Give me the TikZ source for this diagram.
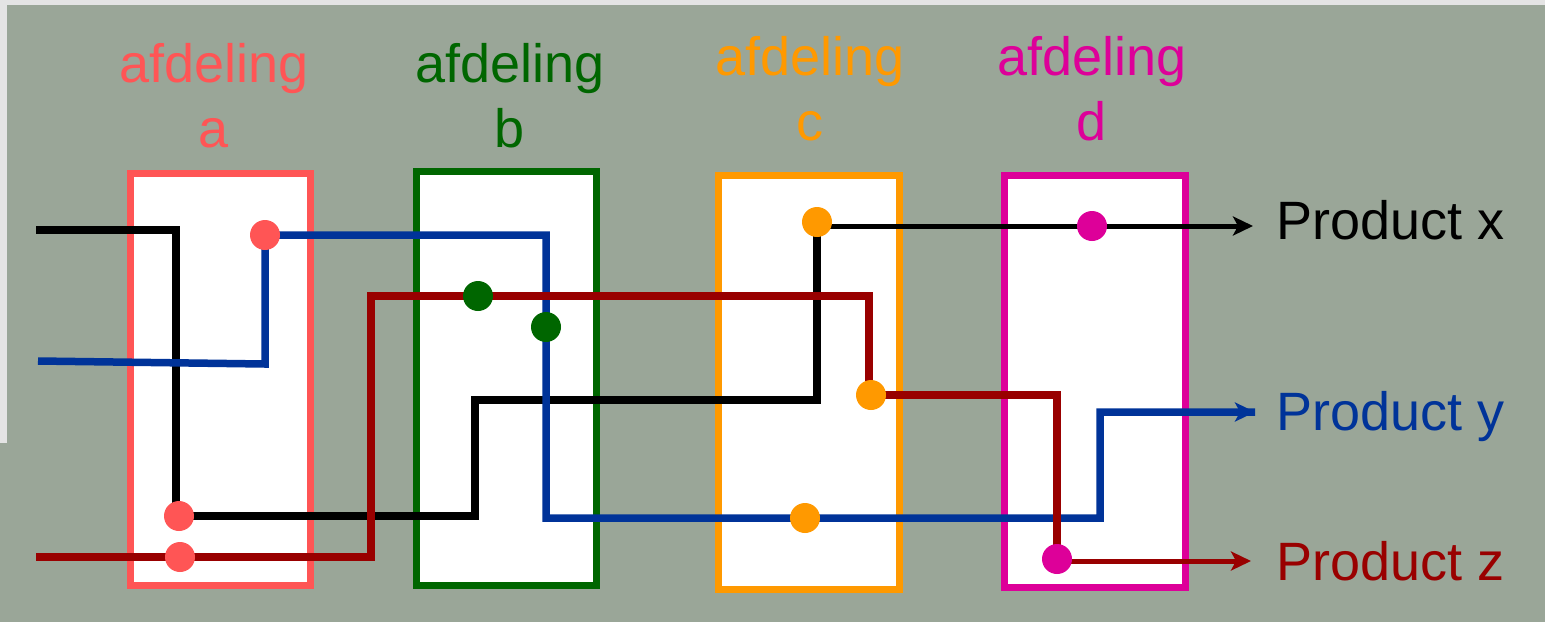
\documentclass[tikz,border=0pt]{standalone}
\usepackage{fontspec}
\setmainfont{Liberation Sans}
\usetikzlibrary{arrows.meta}
\definecolor{panel}{RGB}{154,166,152}
\definecolor{outerbg}{RGB}{228,228,228}
\definecolor{colA}{RGB}{255,85,85}
\definecolor{colB}{RGB}{0,102,0}
\definecolor{colC}{RGB}{255,153,0}
\definecolor{colD}{RGB}{221,0,153}
\definecolor{wblue}{RGB}{0,51,153}
\definecolor{wred}{RGB}{153,0,0}
\pgfdeclarelayer{bglayer}
\pgfdeclarelayer{wirelayer}
\pgfsetlayers{bglayer,wirelayer,main}
\tikzset{
  box/.style={draw, line width=7pt, fill=white, rectangle, inner sep=0pt},
  dot/.style={circle, fill, minimum size=30pt, inner sep=0pt},
  ttl/.style={font=\fontsize{54}{60}\selectfont, anchor=base, inner sep=0pt},
  prod/.style={font=\fontsize{54}{60}\selectfont, anchor=base west, inner sep=0pt},
  wire/.style={line width=7.5pt, line join=miter},
  thinwire/.style={line width=5pt, -{Stealth[length=20pt,width=19pt,inset=5pt]}},
  arrwire/.style={line width=7pt, -{Stealth[length=20pt,width=19pt,inset=5pt]}},
}
\begin{document}
\begin{tikzpicture}[x=1pt,y=-1pt]
\begin{pgfonlayer}{bglayer}
  \fill[outerbg] (0,0) rectangle (1545,622);
  \fill[panel] (7,5) rectangle (1545,622);
  \fill[panel] (0,443) rectangle (7,622);
  \node[box, draw=colA, minimum width=180pt, minimum height=412pt] (A) at (220,379) {};
  \node[box, draw=colB, minimum width=180pt, minimum height=414pt] (B) at (506,378) {};
  \node[box, draw=colC, minimum width=181pt, minimum height=414pt] (C) at (808.5,382) {};
  \node[box, draw=colD, minimum width=181pt, minimum height=412pt] (D) at (1094.5,381) {};
\end{pgfonlayer}

% titles
\node[ttl, text=colA] (tA1) at (214,82) {afdeling};
\node[ttl, text=colA] (tA2) at (214,147) {a};
\node[ttl, text=colB] (tB1) at (510,82) {afdeling};
\node[ttl, text=colB] (tB2) at (510,147) {b};
\node[ttl, text=colC] (tC1) at (810,75) {afdeling};
\node[ttl, text=colC] (tC2) at (810,140) {c};
\node[ttl, text=colD] (tD1) at (1092,75) {afdeling};
\node[ttl, text=colD] (tD2) at (1092,140) {d};

% product labels
\node[prod, text=black] (px) at (1276,239) {Product x};
\node[prod, text=wblue] (py) at (1276,430) {Product y};
\node[prod, text=wred] (pz) at (1276,580) {Product z};

% wire ends
\coordinate (inK) at (36,230);
\coordinate (inB) at (38,361);
\coordinate (inR) at (36,557);
\coordinate (outK) at (1253,226);
\coordinate (outB) at (1255,412);
\coordinate (outR) at (1251,561);

% dots
\node[dot, colA] (a1) at (265,235) {};
\node[dot, colA] (a2) at (179,516) {};
\node[dot, colA] (a3) at (180,557) {};
\node[dot, colB] (b1) at (478,296) {};
\node[dot, colB] (b2) at (546,327) {};
\node[dot, colC] (c1) at (817,222) {};
\node[dot, colC] (c2) at (871,395) {};
\node[dot, colC] (c3) at (805,518) {};
\node[dot, colD] (d1) at (1092,226) {};
\node[dot, colD] (d2) at (1057,559) {};

\begin{pgfonlayer}{wirelayer}
  % black -> product x
  \draw[wire, black] (inK) -| (176,516) -- (a2.center) -| (475,400) -| (c1.center);
  \draw[thinwire, black] (c1.center |- d1.center) -- (d1.center) -- (outK);
  % blue -> product y
  \draw[wire, wblue] (inB) -- (265,364) -- (a1.center) -| (b2.center) |- (c3.center) -- (1100,518) |- (outB);
  \draw[arrwire, wblue] (1100,412) -- (outB);
  % red -> product z
  \draw[wire, wred] (inR) -- (a3.center) -- (371,557) |- (b1.center) -| (869,395) -- (c2.center) -| (d2.center);
  \draw[thinwire, wred] (d2.center |- outR) -- (outR);
\end{pgfonlayer}
\end{tikzpicture}
\end{document}
